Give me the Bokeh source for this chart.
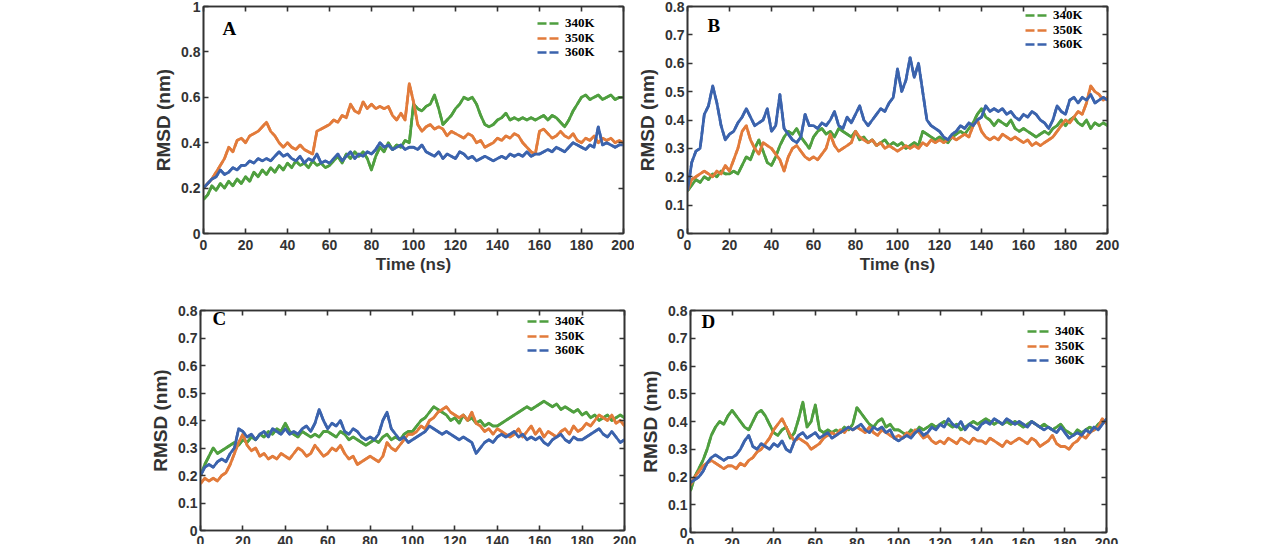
from bokeh.plotting import figure
from bokeh.models import (LinearAxis, FixedTicker, Range1d, Label, Legend, LegendItem,
                          CustomJSTickFormatter)
from bokeh.layouts import row, column
from bokeh.embed import file_html
from bokeh.resources import INLINE

# ---------------- data (RMSD in nm, sampled every 2 ns) ----------------
time_ns = list(range(0, 201, 2))
series_names = ["340K", "350K", "360K"]
series_colors = ["#4f9f3f", "#e27b3b", "#3b63ad"]

x_ticks = [0, 20, 40, 60, 80, 100, 120, 140, 160, 180, 200]
x_labels = ["0", "20", "40", "60", "80", "100", "120", "140", "160", "180", "200"]
y_ticks_a = [0, 0.2, 0.4, 0.6, 0.8, 1.0]
y_labels_a = ["0", "0.2", "0.4", "0.6", "0.8", "1"]
y_ticks_bcd = [0, 0.1, 0.2, 0.3, 0.4, 0.5, 0.6, 0.7, 0.8]
y_labels_bcd = ["0", "0.1", "0.2", "0.3", "0.4", "0.5", "0.6", "0.7", "0.8"]

a340 = [0.15,0.17,0.21,0.19,0.22,0.20,0.23,0.21,0.24,0.22,
        0.25,0.23,0.27,0.25,0.28,0.26,0.29,0.27,0.30,0.28,
        0.31,0.29,0.32,0.30,0.31,0.29,0.32,0.30,0.31,0.29,
        0.30,0.32,0.34,0.31,0.35,0.33,0.36,0.34,0.36,0.33,
        0.28,0.34,0.38,0.36,0.40,0.37,0.39,0.38,0.41,0.40,
        0.57,0.55,0.54,0.56,0.57,0.61,0.55,0.48,0.50,0.52,
        0.55,0.57,0.60,0.59,0.60,0.57,0.52,0.48,0.47,0.48,
        0.50,0.51,0.53,0.50,0.51,0.50,0.51,0.50,0.51,0.50,
        0.51,0.52,0.50,0.52,0.51,0.49,0.47,0.50,0.54,0.57,
        0.60,0.61,0.59,0.60,0.61,0.59,0.60,0.61,0.59,0.60,
        0.60]
a350 = [0.20,0.22,0.24,0.27,0.30,0.33,0.38,0.36,0.41,0.42,
        0.40,0.43,0.44,0.45,0.47,0.49,0.45,0.43,0.40,0.38,
        0.40,0.38,0.37,0.39,0.37,0.36,0.35,0.45,0.46,0.47,
        0.48,0.50,0.49,0.52,0.51,0.57,0.54,0.53,0.58,0.55,
        0.57,0.55,0.56,0.55,0.56,0.52,0.50,0.53,0.50,0.66,
        0.58,0.48,0.45,0.47,0.48,0.46,0.47,0.46,0.43,0.45,
        0.44,0.43,0.42,0.44,0.43,0.40,0.41,0.38,0.39,0.40,
        0.42,0.41,0.43,0.42,0.44,0.43,0.40,0.38,0.36,0.35,
        0.45,0.46,0.44,0.42,0.43,0.45,0.43,0.42,0.44,0.41,
        0.40,0.42,0.41,0.43,0.40,0.42,0.41,0.42,0.40,0.41,
        0.40]
a360 = [0.20,0.22,0.24,0.25,0.28,0.26,0.27,0.29,0.28,0.30,
        0.30,0.32,0.31,0.33,0.32,0.33,0.32,0.34,0.36,0.34,
        0.35,0.33,0.32,0.34,0.31,0.33,0.32,0.35,0.31,0.32,
        0.31,0.33,0.35,0.32,0.34,0.36,0.33,0.35,0.34,0.36,
        0.35,0.37,0.40,0.38,0.39,0.37,0.38,0.39,0.37,0.38,
        0.38,0.37,0.39,0.36,0.35,0.34,0.36,0.33,0.35,0.34,
        0.33,0.36,0.35,0.33,0.34,0.32,0.33,0.34,0.33,0.32,
        0.33,0.34,0.33,0.35,0.34,0.35,0.34,0.36,0.34,0.35,
        0.35,0.36,0.37,0.36,0.38,0.37,0.36,0.38,0.40,0.39,
        0.38,0.37,0.39,0.38,0.47,0.39,0.40,0.39,0.38,0.39,
        0.39]

b340 = [0.15,0.17,0.19,0.18,0.20,0.19,0.21,0.20,0.22,0.21,
        0.21,0.22,0.21,0.24,0.27,0.26,0.30,0.33,0.29,0.25,
        0.24,0.27,0.31,0.34,0.36,0.35,0.37,0.34,0.32,0.30,
        0.34,0.36,0.37,0.35,0.36,0.34,0.37,0.36,0.35,0.34,
        0.36,0.33,0.34,0.32,0.33,0.31,0.32,0.33,0.31,0.32,
        0.31,0.32,0.30,0.31,0.32,0.31,0.36,0.35,0.34,0.33,
        0.34,0.33,0.32,0.34,0.35,0.36,0.35,0.37,0.39,0.42,
        0.44,0.41,0.40,0.38,0.40,0.39,0.38,0.40,0.37,0.36,
        0.37,0.36,0.35,0.34,0.35,0.36,0.35,0.37,0.38,0.40,
        0.38,0.40,0.41,0.39,0.38,0.40,0.37,0.39,0.38,0.39,
        0.38]
b350 = [0.15,0.19,0.20,0.21,0.22,0.21,0.20,0.22,0.21,0.24,
        0.22,0.26,0.30,0.36,0.38,0.33,0.30,0.28,0.32,0.31,
        0.30,0.28,0.26,0.22,0.27,0.30,0.31,0.29,0.27,0.26,
        0.27,0.26,0.28,0.30,0.35,0.31,0.29,0.30,0.31,0.32,
        0.36,0.34,0.33,0.32,0.33,0.31,0.32,0.30,0.31,0.30,
        0.29,0.30,0.31,0.30,0.31,0.30,0.32,0.31,0.33,0.32,
        0.33,0.32,0.33,0.34,0.33,0.34,0.35,0.34,0.38,0.40,
        0.36,0.34,0.33,0.34,0.33,0.35,0.34,0.33,0.34,0.33,
        0.32,0.33,0.31,0.32,0.31,0.32,0.33,0.34,0.36,0.38,
        0.40,0.39,0.41,0.43,0.42,0.46,0.52,0.50,0.49,0.47,
        0.48]
b360 = [0.15,0.25,0.29,0.30,0.42,0.45,0.52,0.46,0.38,0.33,
        0.35,0.36,0.39,0.41,0.44,0.41,0.38,0.39,0.40,0.44,
        0.36,0.38,0.49,0.37,0.35,0.33,0.32,0.34,0.42,0.38,
        0.38,0.37,0.39,0.38,0.40,0.43,0.38,0.37,0.41,0.39,
        0.42,0.45,0.40,0.38,0.40,0.42,0.44,0.43,0.46,0.48,
        0.58,0.50,0.54,0.62,0.55,0.60,0.50,0.40,0.38,0.37,
        0.36,0.34,0.33,0.35,0.36,0.38,0.37,0.39,0.38,0.40,
        0.41,0.45,0.43,0.44,0.43,0.44,0.42,0.43,0.41,0.40,
        0.42,0.41,0.43,0.42,0.40,0.39,0.37,0.40,0.45,0.43,
        0.42,0.47,0.48,0.46,0.48,0.47,0.49,0.46,0.47,0.48,
        0.47]

c340 = [0.20,0.24,0.27,0.30,0.28,0.29,0.30,0.31,0.32,0.31,
        0.33,0.32,0.34,0.33,0.35,0.34,0.36,0.35,0.37,0.36,
        0.39,0.36,0.35,0.34,0.36,0.35,0.34,0.35,0.34,0.36,
        0.36,0.35,0.34,0.36,0.35,0.33,0.34,0.33,0.32,0.31,
        0.32,0.33,0.32,0.34,0.35,0.33,0.34,0.33,0.35,0.36,
        0.36,0.38,0.40,0.41,0.43,0.45,0.44,0.43,0.42,0.40,
        0.41,0.39,0.42,0.40,0.41,0.39,0.40,0.38,0.39,0.38,
        0.38,0.39,0.40,0.41,0.42,0.43,0.44,0.45,0.44,0.45,
        0.46,0.47,0.46,0.45,0.46,0.44,0.45,0.44,0.43,0.44,
        0.42,0.43,0.41,0.42,0.40,0.41,0.42,0.40,0.41,0.42,
        0.41]
c350 = [0.17,0.19,0.18,0.19,0.18,0.20,0.21,0.24,0.28,0.32,
        0.35,0.31,0.29,0.30,0.27,0.28,0.26,0.27,0.26,0.28,
        0.27,0.26,0.28,0.30,0.29,0.27,0.28,0.31,0.29,0.27,
        0.28,0.30,0.29,0.31,0.28,0.26,0.27,0.24,0.25,0.26,
        0.27,0.26,0.25,0.27,0.32,0.30,0.29,0.31,0.33,0.35,
        0.35,0.36,0.38,0.37,0.40,0.41,0.43,0.44,0.45,0.43,
        0.42,0.41,0.42,0.40,0.43,0.39,0.38,0.36,0.37,0.35,
        0.37,0.36,0.35,0.34,0.35,0.37,0.34,0.36,0.38,0.35,
        0.37,0.34,0.36,0.35,0.34,0.36,0.37,0.35,0.38,0.36,
        0.37,0.39,0.38,0.40,0.42,0.41,0.40,0.42,0.39,0.40,
        0.38]
c360 = [0.20,0.23,0.24,0.23,0.25,0.26,0.25,0.28,0.30,0.37,
        0.36,0.34,0.35,0.33,0.35,0.36,0.34,0.37,0.36,0.35,
        0.37,0.35,0.36,0.35,0.37,0.38,0.36,0.39,0.44,0.40,
        0.37,0.39,0.38,0.40,0.36,0.35,0.37,0.36,0.34,0.33,
        0.34,0.33,0.35,0.40,0.43,0.37,0.35,0.33,0.34,0.32,
        0.33,0.34,0.35,0.36,0.38,0.37,0.36,0.35,0.36,0.35,
        0.34,0.33,0.34,0.33,0.32,0.28,0.30,0.32,0.33,0.32,
        0.34,0.35,0.34,0.35,0.36,0.34,0.35,0.33,0.34,0.33,
        0.34,0.32,0.31,0.33,0.34,0.35,0.33,0.32,0.34,0.33,
        0.33,0.34,0.35,0.36,0.37,0.35,0.34,0.36,0.34,0.32,
        0.33]

d340 = [0.15,0.20,0.23,0.26,0.30,0.35,0.38,0.40,0.39,0.42,
        0.44,0.42,0.40,0.38,0.37,0.40,0.43,0.44,0.42,0.39,
        0.36,0.35,0.37,0.38,0.34,0.36,0.41,0.47,0.38,0.40,
        0.46,0.37,0.36,0.37,0.36,0.37,0.36,0.38,0.37,0.39,
        0.45,0.43,0.41,0.39,0.38,0.40,0.41,0.38,0.39,0.37,
        0.37,0.36,0.35,0.37,0.36,0.38,0.37,0.38,0.39,0.38,
        0.39,0.40,0.39,0.38,0.39,0.37,0.38,0.39,0.40,0.39,
        0.40,0.41,0.40,0.39,0.40,0.39,0.40,0.39,0.40,0.39,
        0.38,0.39,0.40,0.39,0.38,0.39,0.38,0.37,0.38,0.39,
        0.37,0.36,0.35,0.37,0.36,0.37,0.38,0.37,0.39,0.40,
        0.40]
d350 = [0.17,0.20,0.22,0.24,0.25,0.26,0.25,0.24,0.23,0.24,
        0.24,0.23,0.25,0.24,0.26,0.27,0.29,0.30,0.32,0.34,
        0.37,0.39,0.41,0.38,0.35,0.33,0.34,0.33,0.32,0.30,
        0.31,0.32,0.34,0.35,0.36,0.35,0.37,0.36,0.38,0.37,
        0.38,0.37,0.36,0.38,0.36,0.35,0.37,0.36,0.35,0.34,
        0.35,0.34,0.36,0.35,0.37,0.36,0.34,0.35,0.33,0.32,
        0.33,0.32,0.34,0.33,0.32,0.34,0.33,0.32,0.34,0.33,
        0.33,0.32,0.34,0.33,0.32,0.31,0.33,0.32,0.33,0.34,
        0.33,0.32,0.34,0.33,0.31,0.32,0.33,0.35,0.32,0.31,
        0.31,0.30,0.32,0.33,0.35,0.34,0.36,0.37,0.38,0.41,
        0.39]
d360 = [0.18,0.19,0.20,0.22,0.25,0.27,0.28,0.27,0.26,0.27,
        0.27,0.28,0.30,0.33,0.35,0.31,0.30,0.32,0.31,0.30,
        0.32,0.31,0.33,0.30,0.29,0.33,0.35,0.36,0.34,0.35,
        0.36,0.34,0.35,0.36,0.34,0.35,0.36,0.37,0.38,0.37,
        0.38,0.39,0.37,0.36,0.38,0.37,0.38,0.36,0.37,0.34,
        0.33,0.34,0.35,0.34,0.36,0.37,0.35,0.36,0.38,0.37,
        0.39,0.38,0.41,0.39,0.38,0.40,0.37,0.39,0.38,0.37,
        0.39,0.40,0.39,0.41,0.40,0.39,0.41,0.40,0.39,0.40,
        0.39,0.38,0.40,0.39,0.38,0.37,0.38,0.37,0.36,0.38,
        0.36,0.34,0.35,0.36,0.35,0.37,0.36,0.38,0.37,0.39,
        0.41]

INK = "#333333"
SANS = "Liberation Sans"
SERIF = "Liberation Serif"
GLYPH_W = 22
STANDOFF = 6
ITEM_H = 15
ROW_GAP = 14.5


def tick_formatter(vals, labels):
    return CustomJSTickFormatter(args=dict(tvals=vals, tlabels=labels), code="""
        for (let i = 0; i < tvals.length; i++) {
            if (Math.abs(tvals[i] - tick) < 1e-9) { return tlabels[i]; }
        }
        return '';
    """)


def style_axis(ax, show_labels=True, standoff=3):
    ax.axis_line_color = INK
    ax.axis_line_width = 1.6
    ax.major_tick_line_color = INK
    ax.major_tick_line_width = 1.6
    ax.major_tick_in = 5
    ax.major_tick_out = 0
    ax.minor_tick_line_color = None
    if show_labels:
        ax.major_label_text_font = SANS
        ax.major_label_text_font_style = "bold"
        ax.major_label_text_font_size = "14px"
        ax.major_label_text_color = INK
        ax.major_label_standoff = standoff
    else:
        ax.major_label_text_font_size = "0px"
        ax.major_label_standoff = 0


def make_panel(series, y_max, y_ticks, y_labels, letter, letter_x, letter_y,
               fw, fh, bl, br, bt, bb, leg_text_left, leg_mid, x_title, x_standoff):
    p = figure(width=bl + fw + br, height=bt + fh + bb,
               x_range=Range1d(0, 200), y_range=Range1d(0, y_max),
               output_backend="svg", toolbar_location=None,
               min_border_left=bl, min_border_right=br,
               min_border_top=bt, min_border_bottom=bb)
    p.xgrid.visible = False
    p.ygrid.visible = False
    p.outline_line_color = INK
    p.outline_line_width = 1.6
    p.background_fill_color = "white"
    p.border_fill_color = "white"

    xax = p.xaxis[0]
    yax = p.yaxis[0]
    xax.ticker = FixedTicker(ticks=x_ticks)
    xax.formatter = tick_formatter(x_ticks, x_labels)
    yax.ticker = FixedTicker(ticks=y_ticks)
    yax.formatter = tick_formatter(y_ticks, y_labels)
    style_axis(xax, standoff=x_standoff)
    style_axis(yax, standoff=3)
    yax.axis_label = "RMSD (nm)"
    yax.axis_label_text_font = SANS
    yax.axis_label_text_font_style = "bold"
    yax.axis_label_text_font_size = "19px"
    yax.axis_label_text_color = INK
    yax.axis_label_standoff = 4
    if x_title:
        xax.axis_label = x_title
        xax.axis_label_text_font = SANS
        xax.axis_label_text_font_style = "bold"
        xax.axis_label_text_font_size = "17px"
        xax.axis_label_text_color = INK
        xax.axis_label_standoff = 2

    top = LinearAxis(ticker=FixedTicker(ticks=x_ticks))
    right = LinearAxis(ticker=FixedTicker(ticks=y_ticks))
    style_axis(top, show_labels=False)
    style_axis(right, show_labels=False)
    p.add_layout(top, "above")
    p.add_layout(right, "right")

    # dashed copies underneath provide the dashed legend samples
    dashed = []
    for vals, col in zip(series, series_colors):
        dashed.append(p.line(time_ns, vals, line_color=col, line_width=2.6, line_dash="9 3"))
    for vals, col in zip(series, series_colors):
        p.line(time_ns, vals, line_color=col, line_width=2.8, line_join="round")

    # one single-item legend per row, so the rows can sit as tightly as in the figure
    box_x = leg_text_left - GLYPH_W - STANDOFF
    for i, (name, r) in enumerate(zip(series_names, dashed)):
        center = leg_mid + (i - 1) * ROW_GAP
        legend = Legend(items=[LegendItem(label=name, renderers=[r])],
                        location=(box_x, fh - center - ITEM_H / 2), margin=0, padding=0,
                        spacing=0, label_width=34, label_height=12,
                        glyph_width=GLYPH_W, glyph_height=12, label_standoff=STANDOFF,
                        border_line_color=None, background_fill_alpha=0,
                        label_text_font=SERIF, label_text_font_style="bold",
                        label_text_font_size="13px", label_text_color="black")
        p.add_layout(legend)

    p.add_layout(Label(x=letter_x, y=letter_y, text=letter, text_font=SERIF,
                       text_font_style="bold", text_font_size="19px",
                       text_color="black"))
    return p


pA = make_panel([a340, a350, a360], 1.0, y_ticks_a, y_labels_a, "A", 9, 0.855,
                420, 227, 203, 11, 6, 57, 362, 32, "Time (ns)", 6)
pB = make_panel([b340, b350, b360], 0.8, y_ticks_bcd, y_labels_bcd, "B", 9.5, 0.697,
                423, 232, 50, 20, 6, 52, 366, 29, "Time (ns)", 6)
pC = make_panel([c340, c350, c360], 0.8, y_ticks_bcd, y_labels_bcd, "C", 5.7, 0.731,
                424, 221, 200, 13, 19, 22, 355, 27, None, 5)
pD = make_panel([d340, d350, d360], 0.8, y_ticks_bcd, y_labels_bcd, "D", 5.3, 0.724,
                419, 222, 50, 20, 20, 22, 365, 36, None, 5)

row1 = row(pA, pB)
row2 = row(pC, pD)
root = column(row1, row2, height=544, styles={"overflow": "hidden"})

open("out.html", "w").write(file_html(root, INLINE))
